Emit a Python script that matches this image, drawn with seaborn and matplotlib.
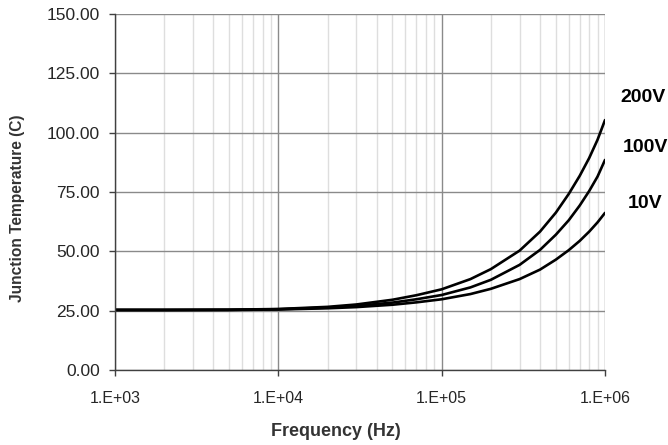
import numpy as np
import pandas as pd
import matplotlib
matplotlib.use("Agg")
import matplotlib.pyplot as plt
from matplotlib.ticker import LogLocator, FixedLocator, FuncFormatter
import seaborn as sns

freq = [1e3, 2e3, 5e3, 1e4, 2e4, 3e4, 5e4, 7e4, 1e5, 1.5e5, 2e5,
        3e5, 4e5, 5e5, 6e5, 7e5, 8e5, 9e5, 1e6]
temp_200v = [25.3, 25.3, 25.4, 25.7, 26.6, 27.6, 29.6, 31.5, 34.0, 38.3,
             42.5, 50.3, 58.3, 66.3, 74.2, 81.8, 89.3, 97.0, 105.3]
temp_100v = [25.3, 25.3, 25.35, 25.6, 26.3, 27.0, 28.4, 29.8, 31.6, 34.8,
             38.0, 44.3, 50.6, 57.0, 63.1, 69.3, 75.4, 81.5, 88.5]
temp_10v = [25.3, 25.3, 25.3, 25.5, 26.0, 26.5, 27.5, 28.5, 29.8, 32.0,
            34.2, 38.3, 42.3, 46.5, 50.5, 54.4, 58.3, 62.2, 66.2]
series_labels = ["200V", "100V", "10V"]
y_ticks = [0, 25, 50, 75, 100, 125, 150]
x_ticks = [1e3, 1e4, 1e5, 1e6]

df = pd.concat([
    pd.DataFrame({"freq": freq, "temp": temp_200v, "series": "200V"}),
    pd.DataFrame({"freq": freq, "temp": temp_100v, "series": "100V"}),
    pd.DataFrame({"freq": freq, "temp": temp_10v, "series": "10V"}),
])

sns.set_style("white")
plt.rcParams['font.family'] = ['Liberation Sans', 'DejaVu Sans']

fig = plt.figure(figsize=(6.68, 4.45), dpi=100)
ax = fig.add_axes([115/668, 75/445, 490/668, 356/445])

sns.lineplot(data=df, x="freq", y="temp", hue="series",
             palette=["black", "black", "black"], linewidth=1.9,
             legend=False, ax=ax)

ax.set_xscale("log")
ax.set_xlim(1e3, 1e6)
ax.set_ylim(0, 150)

ax.yaxis.set_major_locator(FixedLocator(y_ticks))
ax.yaxis.set_major_formatter(FuncFormatter(lambda v, p: f"{v:.2f}"))
ax.xaxis.set_major_locator(FixedLocator(x_ticks))
ax.xaxis.set_major_formatter(FuncFormatter(lambda v, p: f"1.E+{int(round(np.log10(v))):02d}"))
ax.xaxis.set_minor_locator(LogLocator(base=10, subs=np.arange(2, 10), numticks=20))

ax.grid(True, which="major", axis="both", color="#8a8a8a", linewidth=1.0)
ax.grid(True, which="minor", axis="x", color="#dedede", linewidth=1.0)
ax.set_axisbelow(True)

for s in ["top", "right"]:
    ax.spines[s].set_visible(False)
for s in ["left", "bottom"]:
    ax.spines[s].set_color("#404040")
    ax.spines[s].set_linewidth(1.0)

ax.tick_params(axis="y", which="major", direction="out", length=4,
               width=1.0, color="#404040", labelsize=12.5, pad=7, left=True)
ax.tick_params(axis="x", which="major", direction="out", length=4,
               width=1.0, color="#404040", labelsize=11.5, pad=11, bottom=True)
ax.tick_params(axis="x", which="minor", length=0)

ax.set_xlabel("Frequency (Hz)", fontsize=13, fontweight="bold", color="#333333")
ax.set_ylabel("Junction Temperature (C)", fontsize=11.2, fontweight="bold", color="#333333")
ax.xaxis.set_label_coords((336 - 115) / 490, -(431 - 370) / 356)
ax.yaxis.set_label_coords(-(115 - 17) / 490, (370 - 208) / 356)
ax.xaxis.label.set_va("center")
ax.yaxis.label.set_va("center")

label_pos = [(643, 98), (645, 147), (645.5, 204)]
for lab, (px, py) in zip(series_labels, label_pos):
    fig.text(px/668, 1 - py/445, lab, fontsize=14, fontweight="bold",
             ha="center", va="center", color="black")

fig.savefig("out.png", dpi=100)
